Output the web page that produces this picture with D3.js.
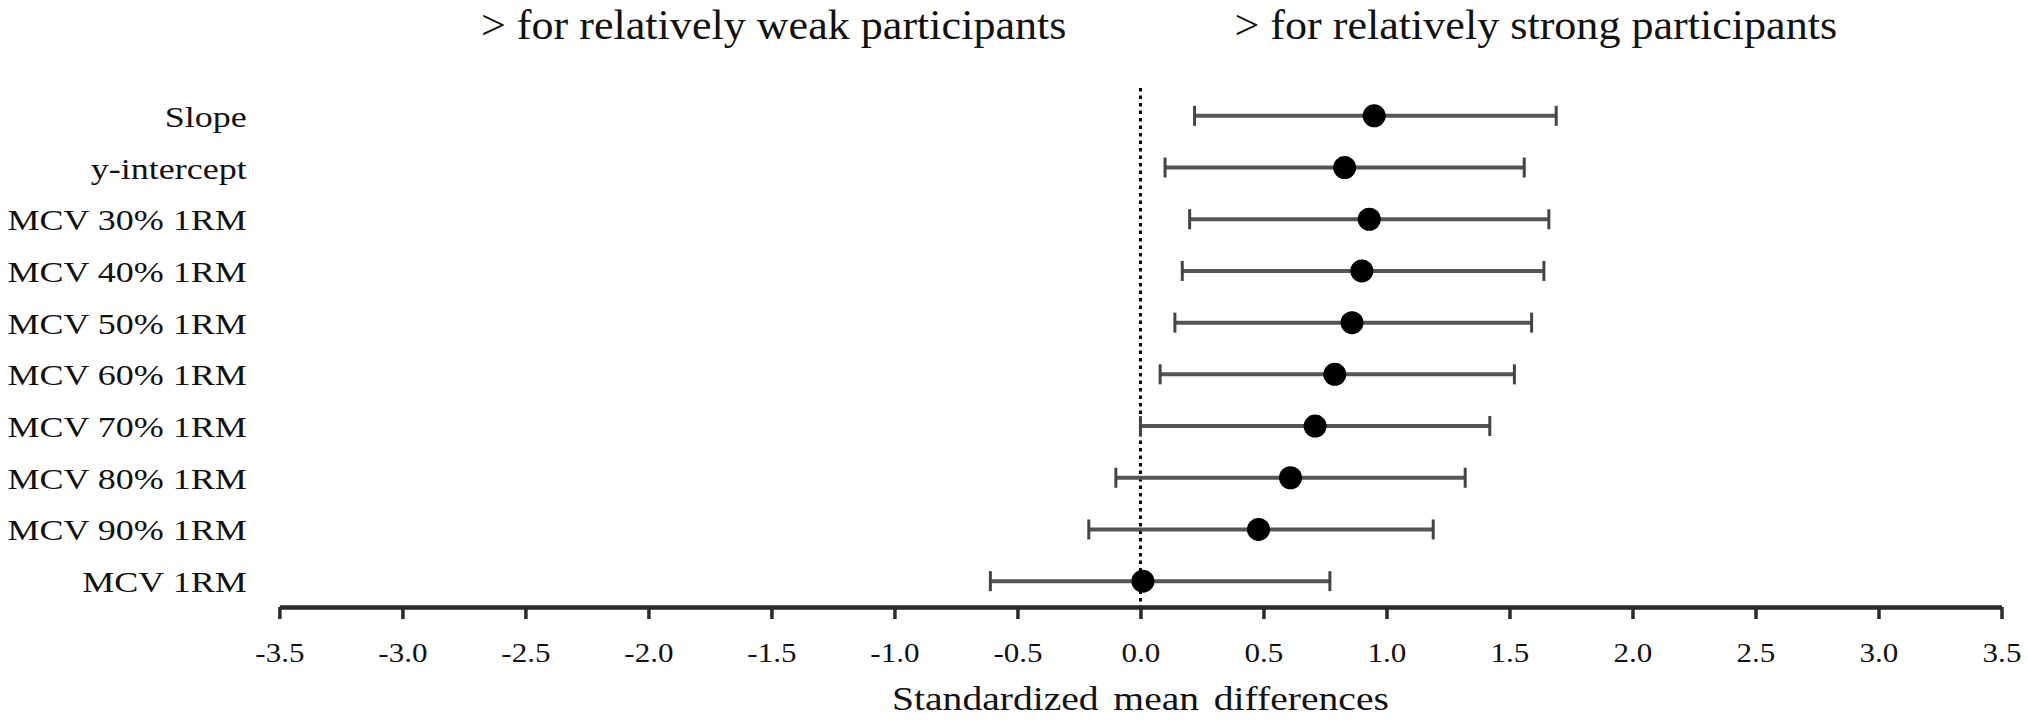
<!DOCTYPE html>
<html>
<head>
<meta charset="utf-8">
<script src="https://cdn.jsdelivr.net/npm/d3@7/dist/d3.min.js"></script>
<style>
html,body{margin:0;padding:0;background:#fff;}
svg{display:block;}
text{font-family:"Liberation Serif","Times New Roman",serif;fill:#111;}
</style>
</head>
<body>
<svg id="chart" width="2028" height="724"></svg>
<script>
const categories = ["Slope","y-intercept","MCV 30% 1RM","MCV 40% 1RM","MCV 50% 1RM","MCV 60% 1RM","MCV 70% 1RM","MCV 80% 1RM","MCV 90% 1RM","MCV 1RM"];
const estimates = [0.95, 0.83, 0.93, 0.90, 0.86, 0.79, 0.71, 0.61, 0.48, 0.01];
const lowerCI   = [0.22, 0.10, 0.20, 0.17, 0.14, 0.08, 0.00, -0.10, -0.21, -0.61];
const upperCI   = [1.69, 1.56, 1.66, 1.64, 1.59, 1.52, 1.42, 1.32, 1.19, 0.77];
const tickValues = [-3.5,-3.0,-2.5,-2.0,-1.5,-1.0,-0.5,0.0,0.5,1.0,1.5,2.0,2.5,3.0,3.5];
const tickLabels = ["-3.5","-3.0","-2.5","-2.0","-1.5","-1.0","-0.5","0.0","0.5","1.0","1.5","2.0","2.5","3.0","3.5"];
const xTitle = "Standardized mean differences";
const headerLeft = "> for relatively weak participants";
const headerRight = "> for relatively strong participants";

const svg = d3.select("#chart");
const axisY = 607;
const x = d3.scaleLinear().domain([-3.5, 3.5]).range([279.4, 2001.5]);
const y = d3.scalePoint().domain(categories).range([90, axisY]).padding(0.5);

const data = categories.map((c, i) => ({cat: c, est: estimates[i], lo: lowerCI[i], hi: upperCI[i]}));

// headers
svg.append("text").attr("transform", `translate(${x(0) - 74},39) scale(1.05,1)`).attr("text-anchor", "end")
  .attr("font-size", 42).text(headerLeft);
svg.append("text").attr("transform", `translate(${x(0) + 94},39) scale(1.05,1)`).attr("text-anchor", "start")
  .attr("font-size", 42).text(headerRight);

// reference dotted line at 0
svg.append("line").attr("x1", x(0)).attr("x2", x(0)).attr("y1", 88).attr("y2", axisY)
  .attr("stroke", "#000").attr("stroke-width", 3).attr("stroke-dasharray", "3.5,4");

// x axis
const axis = d3.axisBottom(x).tickValues(tickValues).tickSize(12).tickSizeOuter(0)
  .tickFormat((d, i) => tickLabels[i]);
const gx = svg.append("g").attr("transform", `translate(0,${axisY})`).call(axis);
gx.select(".domain").attr("stroke", "#2a2a2a").attr("stroke-width", 4.5);
gx.selectAll(".tick line").attr("stroke", "#2a2a2a").attr("stroke-width", 3.5);
gx.selectAll(".tick text").attr("y", 55).attr("dy", 0).attr("font-size", 27)
  .attr("font-family", "Liberation Serif, Times New Roman, serif").attr("fill", "#111")
  .attr("transform", "scale(1.15,1)");

// x title
svg.append("text").attr("transform", `translate(${x(0)},710) scale(1.2,1)`)
  .attr("text-anchor", "middle").attr("font-size", 33).attr("word-spacing", 4).text(xTitle);

// category labels
svg.append("g").selectAll("text").data(data).join("text")
  .attr("transform", d => `translate(246.7,${y(d.cat) + 11}) scale(1.2,1)`)
  .attr("text-anchor", "end").attr("font-size", 30).text(d => d.cat);

// error bars
const bars = svg.append("g");
bars.selectAll("line.ci").data(data).join("line").attr("class", "ci")
  .attr("x1", d => x(d.lo)).attr("x2", d => x(d.hi))
  .attr("y1", d => y(d.cat)).attr("y2", d => y(d.cat))
  .attr("stroke", "#555").attr("stroke-width", 4);
bars.selectAll("line.capl").data(data).join("line").attr("class", "capl")
  .attr("x1", d => x(d.lo)).attr("x2", d => x(d.lo))
  .attr("y1", d => y(d.cat) - 10).attr("y2", d => y(d.cat) + 10)
  .attr("stroke", "#444").attr("stroke-width", 3);
bars.selectAll("line.caph").data(data).join("line").attr("class", "caph")
  .attr("x1", d => x(d.hi)).attr("x2", d => x(d.hi))
  .attr("y1", d => y(d.cat) - 10).attr("y2", d => y(d.cat) + 10)
  .attr("stroke", "#444").attr("stroke-width", 3);

// points
svg.append("g").selectAll("circle").data(data).join("circle")
  .attr("cx", d => x(d.est)).attr("cy", d => y(d.cat)).attr("r", 11.5).attr("fill", "#000");
</script>
</body>
</html>
